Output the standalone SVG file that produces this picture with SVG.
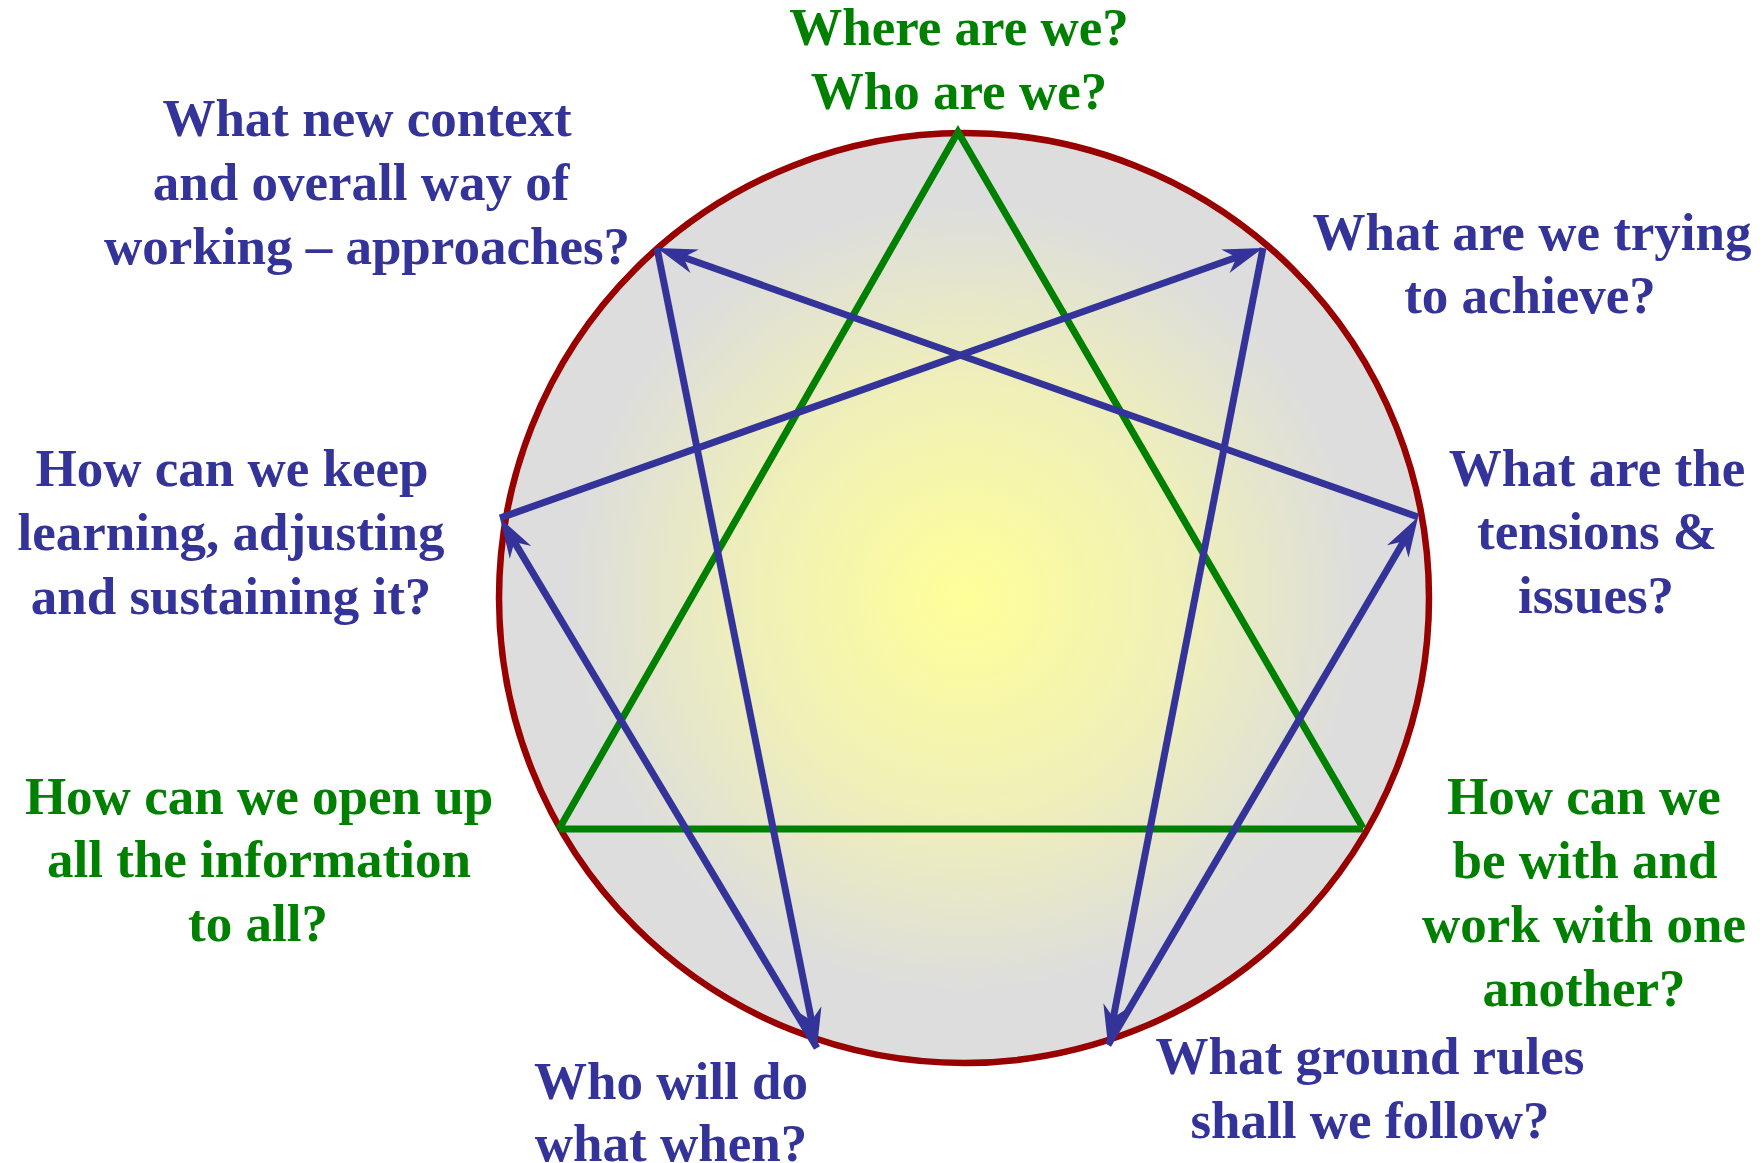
<svg xmlns="http://www.w3.org/2000/svg" width="1763" height="1163" viewBox="0 0 1763 1163">
  <style>
    .lbl { font-family: "Liberation Serif", "Times New Roman", serif; font-weight: bold; font-size: 53px; text-anchor: middle; }
    .blue { fill: #333399; }
    .green { fill: #008000; }
    .arrow { stroke: #333399; stroke-width: 7; fill: none; marker-end: url(#head); }
    .tri { stroke: #008000; stroke-width: 7; fill: none; stroke-linejoin: miter; }
  </style>
  <defs>
    <radialGradient id="bg" cx="965" cy="598" r="465" gradientUnits="userSpaceOnUse">
      <stop offset="0" stop-color="#FFFF99"/>
      <stop offset="0.45" stop-color="#F0F0B8"/>
      <stop offset="0.85" stop-color="#DDDDDD"/>
      <stop offset="1" stop-color="#DDDDDD"/>
    </radialGradient>
    <marker id="head" viewBox="-20 -15 45 30" markerWidth="45" markerHeight="30" refX="0" refY="0" orient="auto" markerUnits="userSpaceOnUse">
      <path d="M22,0 L-18,-12.5 L-6,0 L-18,12.5 Z" fill="#333399"/>
    </marker>
  </defs>
  <rect width="1763" height="1163" fill="#FFFFFF"/>

  <g id="circle">
    <circle cx="964" cy="598" r="465" fill="url(#bg)" stroke="#990000" stroke-width="6.5"/>
  </g>

  <g id="triangle">
    <polyline class="tri" points="559,829 958,132 1363,828"/>
    <line class="tri" x1="559" y1="829" x2="1363" y2="829"/>
  </g>

  <g id="connectors">
    <line class="arrow" x1="1263" y1="248" x2="1112.2" y2="1023.4"/>
    <line class="arrow" x1="1108" y1="1045" x2="1406.9" y2="536"/>
    <line class="arrow" x1="1418" y1="517" x2="677.7" y2="255.3"/>
    <line class="arrow" x1="657" y1="248" x2="812.7" y2="1026.4"/>
    <line class="arrow" x1="817" y1="1048" x2="511.3" y2="536.9"/>
    <line class="arrow" x1="500" y1="518" x2="1242.3" y2="255.3"/>
  </g>

  <g id="n9-top">
    <text class="lbl green" x="959" y="45">Where are we?</text>
    <text class="lbl green" x="959" y="109">Who are we?</text>
  </g>
  <g id="n8-approaches">
    <text class="lbl blue" x="367" y="136">What new context</text>
    <text class="lbl blue" x="361" y="200">and overall way of</text>
    <text class="lbl blue" x="367" y="264">working – approaches?</text>
  </g>
  <g id="n1-achieve">
    <text class="lbl blue" x="1532" y="250">What are we trying</text>
    <text class="lbl blue" x="1530" y="313">to achieve?</text>
  </g>
  <g id="n2-tensions">
    <text class="lbl blue" x="1597" y="486">What are the</text>
    <text class="lbl blue" x="1597" y="549">tensions &amp;</text>
    <text class="lbl blue" x="1596" y="613">issues?</text>
  </g>
  <g id="n3-together">
    <text class="lbl green" x="1584" y="814">How can we</text>
    <text class="lbl green" x="1585" y="878">be with and</text>
    <text class="lbl green" x="1584" y="942">work with one</text>
    <text class="lbl green" x="1584" y="1006">another?</text>
  </g>
  <g id="n4-rules">
    <text class="lbl blue" x="1370" y="1074">What ground rules</text>
    <text class="lbl blue" x="1370" y="1138">shall we follow?</text>
  </g>
  <g id="n5-who">
    <text class="lbl blue" x="671" y="1099">Who will do</text>
    <text class="lbl blue" x="671" y="1161">what when?</text>
  </g>
  <g id="n6-information">
    <text class="lbl green" x="259" y="814">How can we open up</text>
    <text class="lbl green" x="259" y="877">all the information</text>
    <text class="lbl green" x="258" y="941">to all?</text>
  </g>
  <g id="n7-learning">
    <text class="lbl blue" x="232" y="486">How can we keep</text>
    <text class="lbl blue" x="231" y="550">learning, adjusting</text>
    <text class="lbl blue" x="231" y="614">and sustaining it?</text>
  </g>
</svg>
